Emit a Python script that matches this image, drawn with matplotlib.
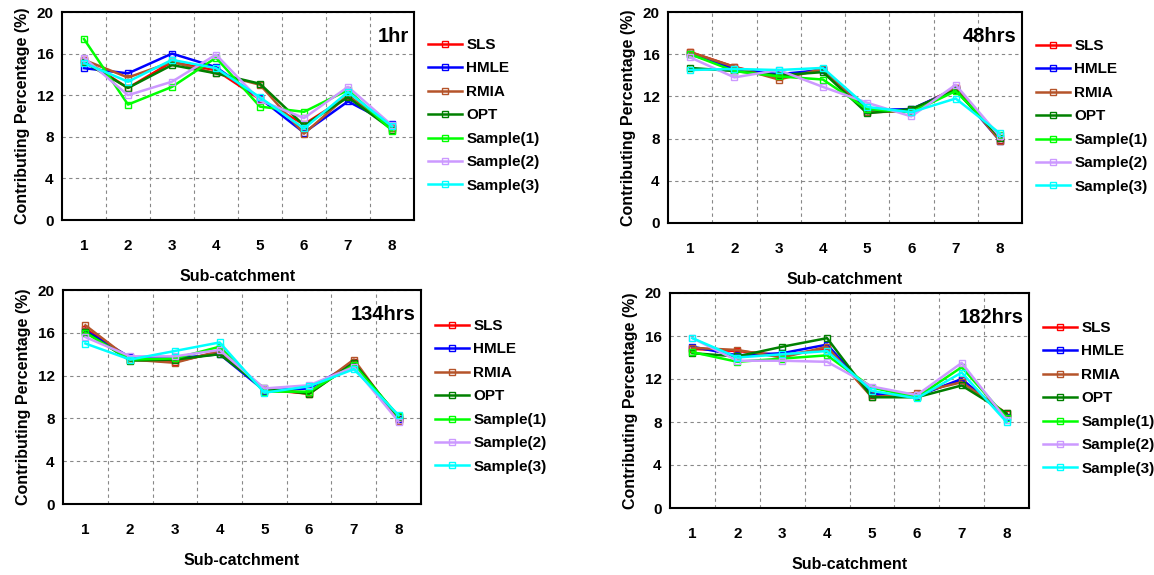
import numpy as np
import matplotlib.pyplot as plt
from matplotlib.ticker import FixedLocator

plt.rcParams['font.family'] = ['Liberation Sans', 'DejaVu Sans']
plt.rcParams['font.weight'] = 'bold'

categories = [1, 2, 3, 4, 5, 6, 7, 8]
methods = ['SLS', 'HMLE', 'RMIA', 'OPT', 'Sample(1)', 'Sample(2)', 'Sample(3)']
colors = ['#ff0000', '#0000ff', '#b5542a', '#008000', '#00ff00', '#cc99ff', '#00ffff']
yticks = [0, 4, 8, 12, 16, 20]

# contributing percentage (%) per sub-catchment, one list per method
hr1 = {
    'SLS':       [15.4, 12.7, 15.2, 14.4, 11.6, 9.2, 11.9, 8.8],
    'HMLE':      [14.6, 14.1, 16.0, 14.7, 11.7, 8.4, 11.4, 9.2],
    'RMIA':      [15.4, 13.7, 15.2, 14.1, 13.0, 8.3, 12.0, 8.8],
    'OPT':       [15.2, 12.7, 14.9, 14.1, 13.1, 9.1, 11.8, 8.7],
    'Sample(1)': [17.4, 11.1, 12.8, 15.6, 10.9, 10.4, 12.5, 8.6],
    'Sample(2)': [15.6, 12.0, 13.3, 15.9, 11.5, 9.8, 12.8, 9.1],
    'Sample(3)': [15.1, 13.3, 15.4, 14.6, 11.8, 8.8, 12.3, 9.0],
}
hr48 = {
    'SLS':       [16.2, 14.8, 13.8, 14.6, 10.5, 10.7, 12.8, 7.9],
    'HMLE':      [16.0, 14.6, 14.1, 14.5, 10.7, 10.8, 12.7, 7.8],
    'RMIA':      [16.2, 14.8, 13.6, 14.6, 10.5, 10.6, 12.8, 7.8],
    'OPT':       [14.7, 14.4, 14.0, 14.3, 10.4, 10.8, 12.6, 8.1],
    'Sample(1)': [16.0, 14.4, 13.9, 13.6, 10.8, 10.5, 12.5, 8.3],
    'Sample(2)': [15.7, 13.8, 14.5, 12.9, 11.4, 10.1, 13.1, 8.2],
    'Sample(3)': [14.5, 14.6, 14.5, 14.7, 11.0, 10.5, 11.8, 8.5],
}
hr134 = {
    'SLS':       [16.4, 13.5, 13.3, 14.2, 10.7, 10.3, 13.3, 7.9],
    'HMLE':      [16.2, 13.7, 13.6, 14.0, 10.6, 10.8, 13.2, 7.9],
    'RMIA':      [16.7, 13.5, 13.2, 14.3, 10.7, 10.4, 13.5, 7.8],
    'OPT':       [16.1, 13.4, 13.5, 14.0, 10.8, 10.3, 13.2, 8.1],
    'Sample(1)': [16.0, 13.5, 13.6, 14.7, 10.5, 10.5, 13.0, 8.2],
    'Sample(2)': [15.6, 13.8, 13.8, 14.4, 10.8, 11.1, 12.8, 7.7],
    'Sample(3)': [15.0, 13.5, 14.3, 15.1, 10.4, 11.0, 12.6, 8.3],
}
hr182 = {
    'SLS':       [14.8, 14.6, 14.2, 14.8, 10.5, 10.5, 11.9, 8.7],
    'HMLE':      [15.0, 14.2, 14.4, 15.2, 10.6, 10.4, 12.0, 8.5],
    'RMIA':      [14.9, 14.7, 14.0, 15.0, 10.3, 10.7, 11.7, 8.8],
    'OPT':       [14.4, 14.1, 15.0, 15.8, 10.3, 10.3, 11.4, 8.8],
    'Sample(1)': [14.5, 13.6, 13.9, 14.2, 11.2, 10.3, 13.1, 8.4],
    'Sample(2)': [15.8, 13.7, 13.7, 13.6, 11.3, 10.5, 13.5, 8.2],
    'Sample(3)': [15.8, 14.0, 14.3, 14.6, 10.9, 10.2, 12.6, 8.0],
}


def plot_panel(fig, rect, data, title, legend_xy):
    ax = fig.add_axes(rect)
    for name, c in zip(methods, colors):
        ax.plot(categories, data[name], color=c, lw=1.8, marker='s', ms=5,
                mfc='none', mec=c, mew=1.0, label=name)
    ax.set_xlim(0.5, 8.5)
    ax.set_ylim(0, 20)
    ax.set_xticks(categories)
    ax.xaxis.set_minor_locator(FixedLocator(np.arange(1.5, 8.5, 1)))
    ax.set_yticks(yticks)
    ax.grid(which='minor', axis='x', color='#888888', ls=(0, (3, 3)), lw=0.8)
    ax.grid(which='major', axis='y', color='#888888', ls=(0, (3, 3)), lw=0.8)
    ax.tick_params(axis='x', which='both', length=0, pad=14, labelsize=11)
    ax.tick_params(axis='y', length=0, pad=6, labelsize=11)
    for s in ax.spines.values():
        s.set_linewidth(1.5)
    ax.set_xlabel('Sub-catchment', fontsize=11.5, fontweight='bold', labelpad=11)
    ax.set_ylabel('Contributing Percentage (%)', fontsize=11.5, fontweight='bold', labelpad=5)
    ax.text(0.985, 0.93, title, transform=ax.transAxes, ha='right', va='top',
            fontsize=14.5, fontweight='bold')
    fig.legend(*ax.get_legend_handles_labels(), loc='upper left',
               bbox_to_anchor=legend_xy, frameon=False, fontsize=11,
               handlelength=2.2, handletextpad=0.3, labelspacing=0.62,
               borderaxespad=0, borderpad=0)
    return ax


fig = plt.figure(figsize=(11.54, 5.75), dpi=100)
W, H = 1154.0, 575.0


def rect(l, r, t, b):
    return [l / W, 1 - b / H, (r - l) / W, (b - t) / H]


plot_panel(fig, rect(62, 414, 12, 220), hr1, '1hr', (428 / W, 1 - 38 / H))
plot_panel(fig, rect(668, 1022, 12, 223), hr48, '48hrs', (1036 / W, 1 - 39 / H))
plot_panel(fig, rect(63, 421, 290, 504), hr134, '134hrs', (435 / W, 1 - 319 / H))
plot_panel(fig, rect(670, 1029, 293, 508), hr182, '182hrs', (1043 / W, 1 - 321 / H))

fig.savefig('out.png', dpi=100)
